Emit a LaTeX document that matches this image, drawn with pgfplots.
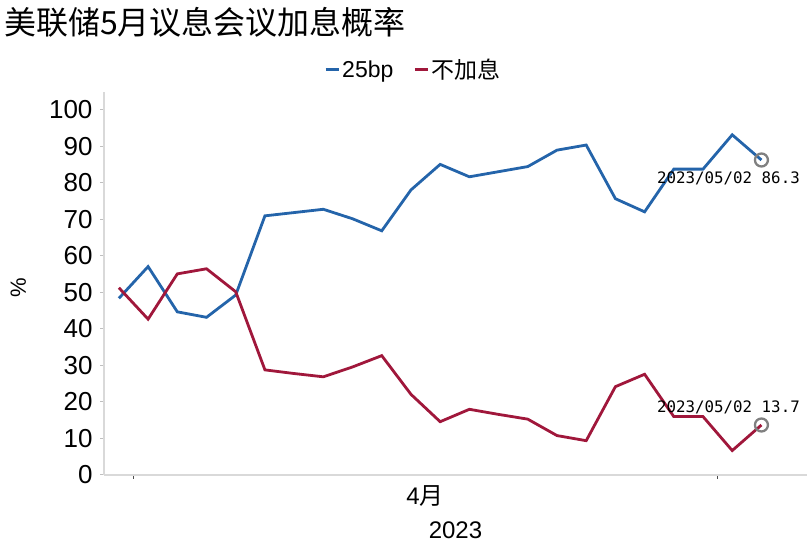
\documentclass[border=0pt]{standalone}
\usepackage{pgfplots}
\pgfplotsset{compat=1.18}
\usepackage{fontspec}
\setmainfont{Liberation Sans}
\newfontfamily\cjk{Noto Sans CJK SC}
\newfontfamily\annfont{DejaVu Sans Mono}
\definecolor{cblue}{HTML}{2464AA}
\definecolor{cred}{HTML}{A0173B}
\definecolor{axgray}{HTML}{D9D9D9}
\pgfplotstableread{
i blue red
0 48.4 51.3
1 57.1 42.7
2 44.7 55.1
3 43.2 56.5
4 49.3 50.2
5 71.0 28.8
6 71.9 27.8
7 72.8 26.9
8 70.2 29.6
9 66.9 32.7
10 78.1 22.1
11 85.1 14.6
12 81.7 18.0
13 83.1 16.6
14 84.5 15.3
15 89.0 10.8
16 90.4 9.4
17 75.7 24.2
18 72.1 27.6
19 83.8 16.0
20 83.8 16.0
21 93.2 6.7
22 86.3 13.7
}\datatable
\begin{document}
\begin{tikzpicture}
\useasboundingbox (0,0) rectangle (807pt,546pt);
\node[anchor=west, inner sep=0pt, font=\cjk\fontsize{32}{32}\selectfont] at (4pt,524pt) {美联储5月议息会议加息概率};
\begin{axis}[
  at={(104pt,71pt)}, anchor=south west,
  scale only axis, width=703pt, height=383.25pt,
  xmin=-0.51, xmax=23.56, ymin=0, ymax=105,
  axis lines*=left,
  axis line style={draw=axgray, line width=1.4pt, -},
  clip=false,
  /pgf/number format/assume math mode=true,
  ytick={0,10,...,100},
  xtick={0.5,20.5}, xticklabels={},
  tick align=outside, major tick length=4pt,
  xtick style={draw=black!70, line width=0.8pt},
  ytick style={draw=gray!50, line width=1pt},
  yticklabel style={font=\fontsize{26}{26}\selectfont, xshift=-4pt},
  ylabel={\%},
  ylabel style={at={(axis description cs:-0.122,0.488)}, anchor=center, font=\fontsize{22}{22}\selectfont},
  xlabel={2023},
  xlabel style={at={(axis description cs:0.5,-0.1435)}, anchor=center, font=\fontsize{24}{24}\selectfont},
  legend style={at={(axis description cs:0.44,1.057)}, anchor=center, draw=none, fill=none,
    legend columns=2, font=\fontsize{23}{23}\selectfont,
    /tikz/every even column/.append style={column sep=18pt},
    legend cell align=left},
  legend image code/.code={\draw[#1, line width=3pt] (0pt,0pt) -- (13pt,0pt);},
]
\addplot[cblue, line width=2.8pt] table[x=i, y=blue] {\datatable};
\addlegendentry{25bp}
\addplot[cred, line width=2.8pt] table[x=i, y=red] {\datatable};
\addlegendentry{{\cjk 不加息}}
\addplot[only marks, mark=o, mark size=6.5pt, color=black!50, line width=2.3pt, forget plot] coordinates {(22,86.3) (22,13.7)};
\node[anchor=east, inner sep=0pt, font=\annfont\fontsize{15.8}{15.8}\selectfont] at (axis cs:23.32,81.4) {2023/05/02 86.3};
\node[anchor=east, inner sep=0pt, font=\annfont\fontsize{15.8}{15.8}\selectfont] at (axis cs:23.32,18.4) {2023/05/02 13.7};
\node[anchor=center, inner sep=0pt, font=\fontsize{24}{24}\selectfont] at (axis cs:10.48,0) [yshift=-21pt] {4{\cjk 月}};
\end{axis}
\end{tikzpicture}
\end{document}
